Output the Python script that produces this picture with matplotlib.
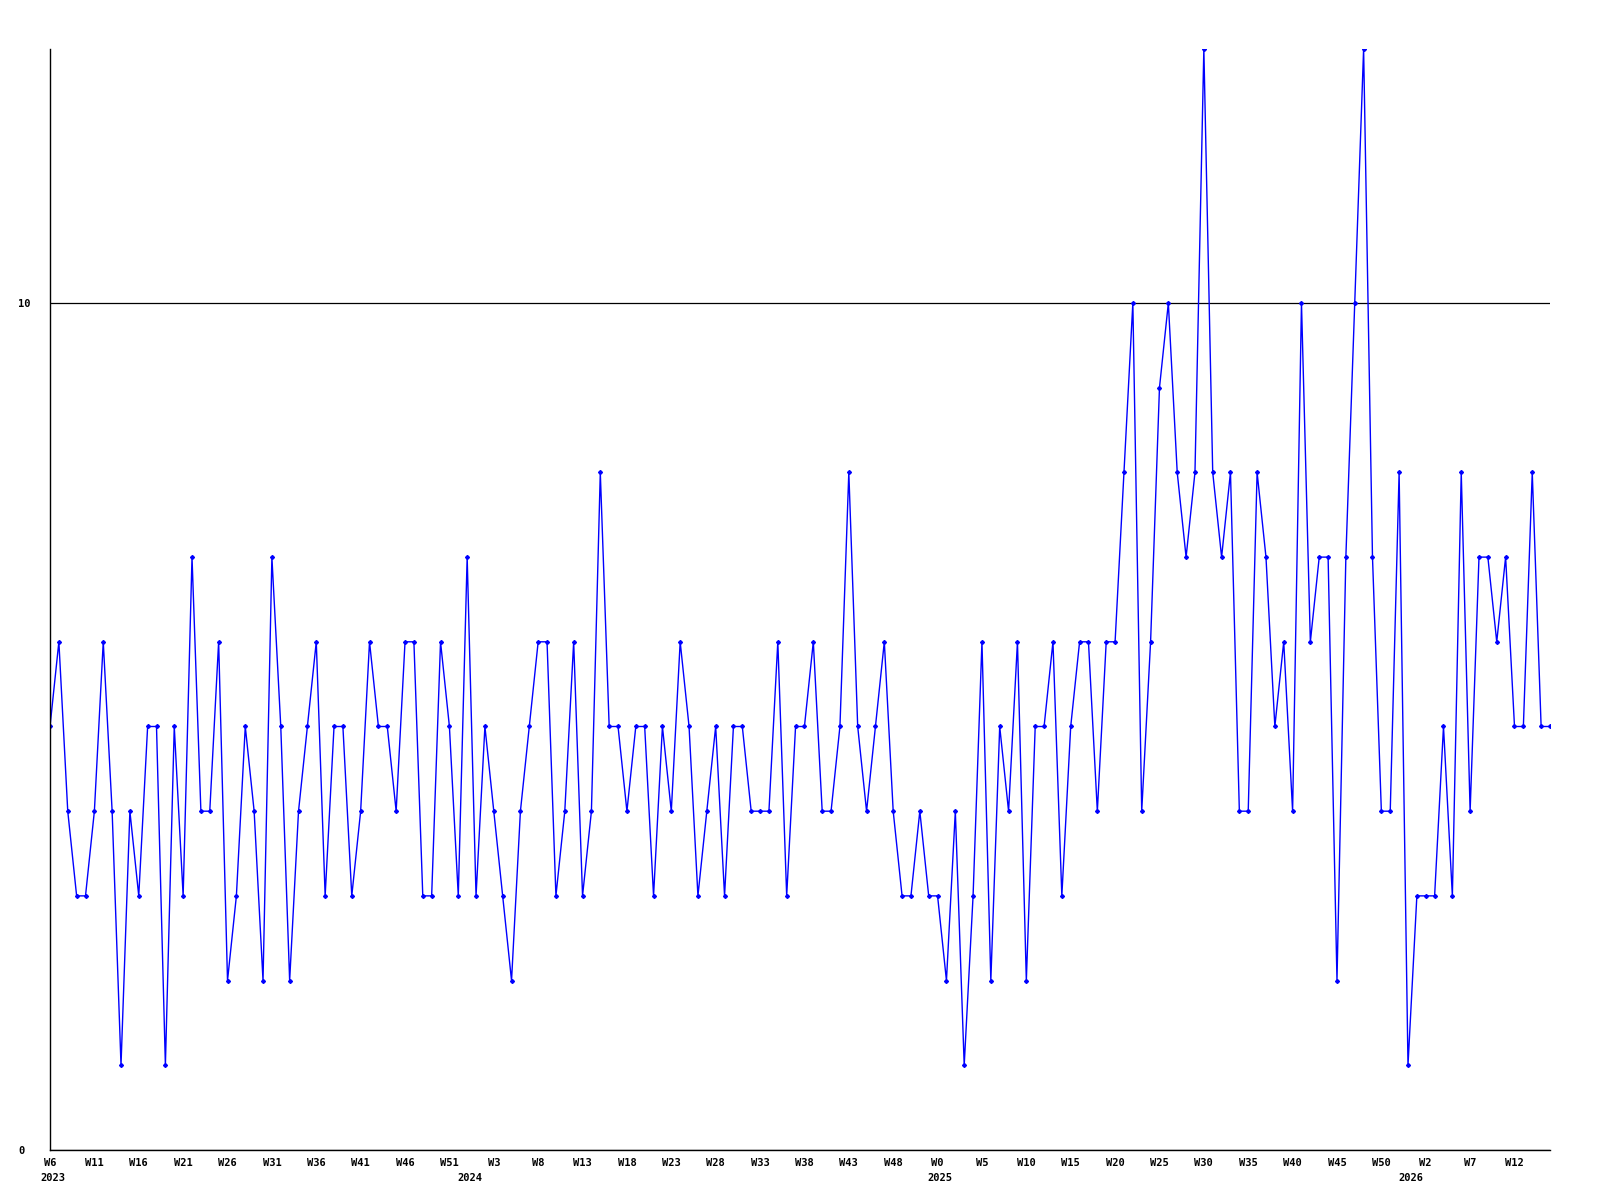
import matplotlib
matplotlib.use("Agg")
from matplotlib import pyplot as plt
from matplotlib import transforms

# weekly counts, 2023 W6 .. 2026 W14
values = [5, 6, 4, 3, 3, 4, 6, 4, 1, 4,
          3, 5, 5, 1, 5, 3, 7, 4, 4, 6,
          2, 3, 5, 4, 2, 7, 5, 2, 4, 5,
          6, 3, 5, 5, 3, 4, 6, 5, 5, 4,
          6, 6, 3, 3, 6, 5, 3, 7, 3, 5,
          4, 3, 2, 4, 5, 6, 6, 3, 4, 6,
          3, 4, 8, 5, 5, 4, 5, 5, 3, 5,
          4, 6, 5, 3, 4, 5, 3, 5, 5, 4,
          4, 4, 6, 3, 5, 5, 6, 4, 4, 5,
          8, 5, 4, 5, 6, 4, 3, 3, 4, 3,
          3, 2, 4, 1, 3, 6, 2, 5, 4, 6,
          2, 5, 5, 6, 3, 5, 6, 6, 4, 6,
          6, 8, 10, 4, 6, 9, 10, 8, 7, 8,
          13, 8, 7, 8, 4, 4, 8, 7, 5, 6,
          4, 10, 6, 7, 7, 2, 7, 10, 13, 7,
          4, 4, 8, 1, 3, 3, 3, 5, 3, 8,
          4, 7, 7, 6, 7, 5, 5, 8, 5, 5]

week_labels = ["W6", "W11", "W16", "W21", "W26", "W31", "W36", "W41", "W46", "W51",
               "W3", "W8", "W13", "W18", "W23", "W28", "W33", "W38", "W43", "W48",
               "W0", "W5", "W10", "W15", "W20", "W25", "W30", "W35", "W40", "W45",
               "W50", "W2", "W7", "W12"]
years = ["2023", "2024", "2025", "2026"]
year_start = [0, 47, 100, 153]

x = list(range(len(values)))

fig = plt.figure(figsize=(16, 12), dpi=100)
ax = fig.add_axes([0.03125, 0.0417, 0.9375, 0.9175])

ax.plot(x, values, color="#0000ff", linewidth=1, marker="D", markersize=2)

ax.set_xlim(0, len(values) - 1)
ax.set_ylim(0, 13)

ax.set_yticks([0, 10])
ax.set_yticklabels(["0", "10"], fontfamily="DejaVu Sans Mono", fontweight="bold",
                   fontsize=7.5, ha="left")
ax.yaxis.grid(True, color="black", linewidth=0.9)
ax.set_axisbelow(True)

ax.set_xticks(list(range(0, 5 * len(week_labels), 5)))
ax.set_xticklabels(week_labels, fontfamily="DejaVu Sans Mono", fontweight="bold", fontsize=7.5)
ax.tick_params(axis="x", length=0, pad=6)
ax.tick_params(axis="y", length=0, pad=23)

trans = transforms.blended_transform_factory(ax.transData, ax.transAxes)
for yr, pos in zip(years, year_start):
    ax.text(pos + 0.3, -0.021, yr, transform=trans, ha="center", va="top",
            fontfamily="DejaVu Sans Mono", fontweight="bold", fontsize=7.5)

for s in ["top", "right"]:
    ax.spines[s].set_visible(False)
for s in ["left", "bottom"]:
    ax.spines[s].set_color("black")
    ax.spines[s].set_linewidth(1)

fig.savefig("out.png", dpi=100)
